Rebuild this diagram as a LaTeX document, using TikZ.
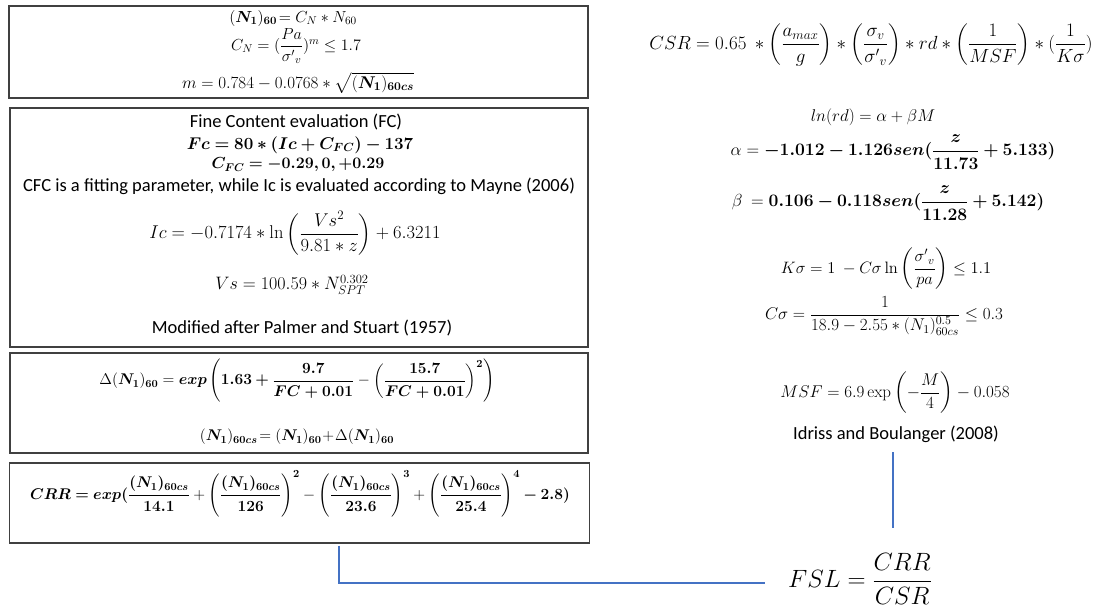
\RequirePackage{fix-cm}
\documentclass[tikz,border=0pt]{standalone}
\usepackage{amsmath}
\usepackage{bm}
\usepackage[no-math]{fontspec}
\setmainfont{Carlito}
\newcommand{\fs}[1]{\fontsize{#1}{#1}\selectfont}
\begin{document}
\begin{tikzpicture}[x=1pt,y=-1pt,
  box/.style={draw=black!75, line width=1.4pt, inner sep=0pt},
  eq/.style={inner sep=0pt, font=\fs{16}},
  txt/.style={inner sep=0pt, font=\fs{18.5}},
  link/.style={draw={rgb,255:red,68;green,114;blue,196}, line width=1.3pt}]
\useasboundingbox (0,0) rectangle (1115,613);

% boxes of the left column
\node[box, minimum width=579pt, minimum height=92pt]  (b1) at (298.5,52) {};
\node[box, minimum width=578pt, minimum height=239pt] (b2) at (299,227.5) {};
\node[box, minimum width=578pt, minimum height=100pt] (b3) at (299,403) {};
\node[box, minimum width=580pt, minimum height=80pt]  (b4) at (299.5,503) {};

% corrected blow count
\node[eq] (n160) at (293,18) {$(\bm{N_1})_{\bm{60}}\!= C_N \ast N_{60}$};
\node[eq] (cn) at (296,46) {$C_N = (\dfrac{Pa}{{\sigma'}_v})^m \le 1.7$};
\node[eq, font=\fs{17}] (mexp) at (298,83) {$m = 0.784 - 0.0768 \ast \sqrt{(\bm{N_1})_{\bm{60cs}}}$};

% fine content
\node[txt] (fctitle) at (296,122) {Fine Content evaluation (FC)};
\node[eq, font=\fs{17}] (fceq) at (300,145) {$\bm{Fc = 80 \ast (Ic + C_{FC}) - 137}$};
\node[eq] (cfc) at (298,165) {$\bm{C_{FC} = -0.29, 0, +0.29}$};
\node[txt] (cfctxt) at (299,186) {CFC is a fitting parameter, while Ic is evaluated according to Mayne (2006)};
\node[eq, font=\fs{18.5}] (ic) at (295,233) {$Ic = -0.7174 \ast \ln\left(\dfrac{Vs^2}{9.81 \ast z}\right) + 6.3211$};
\node[eq, font=\fs{18}] (vs) at (292,285) {$Vs = 100.59 \ast N_{SPT}^{0.302}$};
\node[txt] (palmer) at (302,328) {Modified after Palmer and Stuart (1957)};

% clean sand correction
\node[eq, font=\fs{15.5}] (dn) at (297,381) {$\Delta(\bm{N_1})_{\bm{60}} = \bm{exp}\left(\bm{1.63 + \dfrac{9.7}{FC + 0.01}} - \left(\bm{\dfrac{15.7}{FC + 0.01}}\right)^{\bm{2}}\right)$};
\node[eq, font=\fs{15.5}] (ncs) at (297,437) {$(\bm{N_1})_{\bm{60cs}}\!= (\bm{N_1})_{\bm{60}}\!+\!\Delta(\bm{N_1})_{\bm{60}}$};

% cyclic resistance ratio
\node[eq, font=\fs{15.5}] (crr) at (300,494) {$\bm{CRR = exp(\dfrac{(N_1)_{60cs}}{14.1}} + \left(\bm{\dfrac{(N_1)_{60cs}}{126}}\right)^{\bm{2}} - \left(\bm{\dfrac{(N_1)_{60cs}}{23.6}}\right)^{\bm{3}} + \left(\bm{\dfrac{(N_1)_{60cs}}{25.4}}\right)^{\bm{4}} \bm{- 2.8)}$};

% cyclic stress ratio
\node[eq, font=\fs{19}] (csr) at (871,45) {$CSR = 0.65\ \ast \left(\dfrac{a_{max}}{g}\right) \ast \left(\dfrac{\sigma_v}{{\sigma'}_v}\right) \ast rd \ast \left(\dfrac{1}{MSF}\right) \ast (\dfrac{1}{K\sigma})$};
\node[eq, font=\fs{17}] (lnrd) at (873,117) {$ln(rd) = \alpha + \beta M$};
\node[eq, font=\fs{17.5}] (alpha) at (893,152) {$\alpha = \bm{-1.012 - 1.126 sen(\dfrac{z}{11.73} + 5.133)}$};
\node[eq, font=\fs{17.5}] (beta) at (888,203) {$\beta\ = \bm{0.106 - 0.118 sen(\dfrac{z}{11.28} + 5.142)}$};
\node[eq, font=\fs{16.5}] (ks) at (886,269) {$K\sigma = 1\ - C\sigma \ln\left(\dfrac{{\sigma'}_v}{pa}\right) \le 1.1$};
\node[eq, font=\fs{17}] (cs) at (884,316) {$C\sigma = \dfrac{1}{18.9 - 2.55 \ast (N_1)^{0.5}_{60cs}} \le 0.3$};
\node[eq, font=\fs{17}] (msf) at (895,393) {$MSF = 6.9 \exp\left(-\dfrac{M}{4}\right) - 0.058$};
\node[txt] (ib) at (896,434) {Idriss and Boulanger (2008)};

% factor of safety
\node[inner sep=0pt, font=\fs{25}] (fsl) at (860,579) {$FSL = \dfrac{CRR}{CSR}$};

% connectors
\coordinate (lk) at (339,583);
\coordinate (rk) at (893,452);
\coordinate (rkend) at (893,528);
\draw[link] (b4.south -| lk) ++(0,2) -- (lk) -- (765,583);
\draw[link] (rk) -- (rkend);
\end{tikzpicture}
\end{document}
